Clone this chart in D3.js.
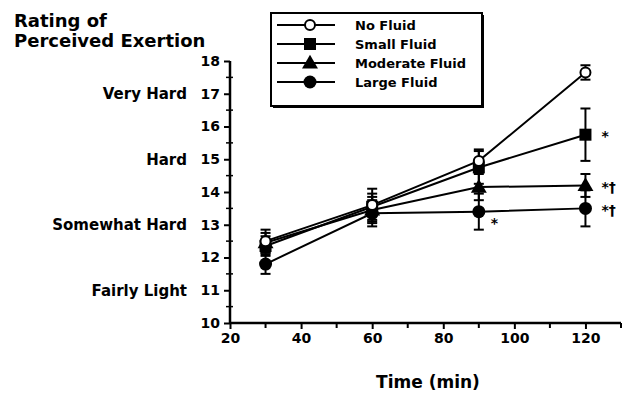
<!DOCTYPE html>
<meta charset="utf-8">
<html>
<head>
<script src="https://cdn.jsdelivr.net/npm/d3@7"></script>
<style>
  body { margin: 0; background: #fff; }
  text { font-family: "DejaVu Sans", sans-serif; font-weight: bold; fill: #000; }
</style>
</head>
<body>
<div id="chart"></div>
<script>
// data
var times = [30, 60, 90, 120];
var seriesNames = ["No Fluid", "Small Fluid", "Moderate Fluid", "Large Fluid"];
var noFluid = [12.5, 13.6, 14.95, 17.65];
var noFluidErr = [0.35, 0.5, 0.35, 0.22];
var smallFluid = [12.35, 13.55, 14.75, 15.75];
var smallFluidErr = [0.3, 0.4, 0.5, 0.8];
var moderateFluid = [12.45, 13.45, 14.15, 14.2];
var moderateFluidErr = [0.3, 0.4, 0.4, 0.35];
var largeFluid = [11.8, 13.35, 13.4, 13.5];
var largeFluidErr = [0.3, 0.4, 0.55, 0.55];
var yTicks = [10, 11, 12, 13, 14, 15, 16, 17, 18];
var xTicks = [20, 40, 60, 80, 100, 120];
var effortLabels = [[17, "Very Hard"], [15, "Hard"], [13, "Somewhat Hard"], [11, "Fairly Light"]];
// significance marks: series index, time index, text
var marks = [[1, 3, "*"], [2, 3, "*\u2020"], [3, 3, "*\u2020"], [3, 2, "*"]];

var W = 626, H = 394;
var svg = d3.select("#chart").append("svg").attr("width", W).attr("height", H);

var x = d3.scaleLinear().domain([20, 130]).range([230, 621]);
var y = d3.scaleLinear().domain([10, 18]).range([323, 61]);

var series = [
  { name: seriesNames[0], v: noFluid, e: noFluidErr, shape: "open" },
  { name: seriesNames[1], v: smallFluid, e: smallFluidErr, shape: "square" },
  { name: seriesNames[2], v: moderateFluid, e: moderateFluidErr, shape: "triangle" },
  { name: seriesNames[3], v: largeFluid, e: largeFluidErr, shape: "circle" }
];

// title
svg.append("text").attr("x", 14).attr("y", 27).style("font-size", "18px").text("Rating of");
svg.append("text").attr("x", 14).attr("y", 47).style("font-size", "18px").text("Perceived Exertion");

// y axis
var yAxis = d3.axisLeft(y).tickValues(yTicks).tickSize(6).tickFormat(d3.format("d"));
var gy = svg.append("g").attr("transform", "translate(230,0)").call(yAxis);
gy.select(".domain").attr("stroke-width", 2.5).attr("d", "M0," + y(18) + "V" + y(10));
gy.selectAll(".tick line").attr("stroke-width", 2);
gy.selectAll(".tick text").attr("x", -10).style("font-size", "14px").style("font-family", "DejaVu Sans, sans-serif").style("font-weight", "bold");
// minor y ticks
var gyMinor = svg.append("g");
d3.range(10.5, 18, 1).forEach(function(v) {
  gyMinor.append("line").attr("x1", 226).attr("x2", 233).attr("y1", y(v)).attr("y2", y(v))
    .attr("stroke", "#000").attr("stroke-width", 1.5);
});

effortLabels.forEach(function(d) {
  svg.append("text").attr("x", 187).attr("y", y(d[0])).attr("dy", "0.36em")
    .attr("text-anchor", "end").style("font-size", "15px").text(d[1]);
});

// x axis
var xAxis = d3.axisBottom(x).tickValues(xTicks).tickSize(6).tickFormat(d3.format("d"));
var gx = svg.append("g").attr("transform", "translate(0," + y(10) + ")").call(xAxis);
gx.select(".domain").attr("stroke-width", 2.5).attr("d", "M" + x(20) + ",0H" + x(130));
gx.selectAll(".tick line").attr("stroke-width", 2);
gx.selectAll(".tick text").attr("y", 10).style("font-size", "14px").style("font-family", "DejaVu Sans, sans-serif").style("font-weight", "bold");
d3.range(30, 131, 20).forEach(function(v) {
  gx.append("line").attr("x1", x(v)).attr("x2", x(v)).attr("y1", 0).attr("y2", 5)
    .attr("stroke", "#000").attr("stroke-width", 2);
});

svg.append("text").attr("x", 428).attr("y", 388).attr("text-anchor", "middle")
  .style("font-size", "17px").text("Time (min)");

// marker drawing
function marker(g, shape, cx, cy) {
  if (shape === "open") {
    g.append("circle").attr("cx", cx).attr("cy", cy).attr("r", 5)
      .attr("fill", "#fff").attr("stroke", "#000").attr("stroke-width", 2);
  } else if (shape === "circle") {
    g.append("circle").attr("cx", cx).attr("cy", cy).attr("r", 6.5).attr("fill", "#000");
  } else if (shape === "square") {
    g.append("rect").attr("x", cx - 6).attr("y", cy - 6).attr("width", 12).attr("height", 12).attr("fill", "#000");
  } else {
    g.append("path").attr("d", d3.symbol().type(d3.symbolTriangle).size(110)())
      .attr("transform", "translate(" + cx + "," + (cy + 1) + ")").attr("fill", "#000");
  }
}

var line = d3.line().x(function(d) { return x(d[0]); }).y(function(d) { return y(d[1]); });

var plot = svg.append("g");
series.forEach(function(s) {
  var pts = times.map(function(t, i) { return [t, s.v[i], s.e[i]]; });
  plot.append("path").attr("d", line(pts)).attr("fill", "none").attr("stroke", "#000").attr("stroke-width", 2);
  pts.forEach(function(p) {
    var x0 = x(p[0]), y1 = y(p[1] + p[2]), y2 = y(p[1] - p[2]);
    plot.append("line").attr("x1", x0).attr("x2", x0).attr("y1", y1).attr("y2", y2).attr("stroke", "#000").attr("stroke-width", 2);
    plot.append("line").attr("x1", x0 - 5).attr("x2", x0 + 5).attr("y1", y1).attr("y2", y1).attr("stroke", "#000").attr("stroke-width", 2);
    plot.append("line").attr("x1", x0 - 5).attr("x2", x0 + 5).attr("y1", y2).attr("y2", y2).attr("stroke", "#000").attr("stroke-width", 2);
  });
});
series.slice().reverse().forEach(function(s) {
  times.forEach(function(t, i) { marker(plot, s.shape, x(t), y(s.v[i])); });
});

marks.forEach(function(m) {
  var s = series[m[0]];
  var dx = m[1] === 3 ? 16 : 12, dy = m[1] === 3 ? 0 : 10;
  svg.append("text").attr("x", x(times[m[1]]) + dx).attr("y", y(s.v[m[1]]) + dy).attr("dy", "0.45em")
    .style("font-size", "14px").text(m[2]);
});

// legend
var lg = svg.append("g");
lg.append("rect").attr("x", 271).attr("y", 13).attr("width", 211).attr("height", 93)
  .attr("fill", "#fff").attr("stroke", "#000").attr("stroke-width", 2);
lg.append("path").attr("d", "M273,107H483V15").attr("fill", "none").attr("stroke", "#000").attr("stroke-width", 2);
series.forEach(function(s, i) {
  var ly = 25 + i * 19;
  lg.append("line").attr("x1", 277).attr("x2", 335).attr("y1", ly).attr("y2", ly).attr("stroke", "#000").attr("stroke-width", 2);
  marker(lg, s.shape, 310, ly);
  lg.append("text").attr("x", 355).attr("y", ly).attr("dy", "0.36em").style("font-size", "13px").text(s.name);
});
</script>
</body>
</html>
